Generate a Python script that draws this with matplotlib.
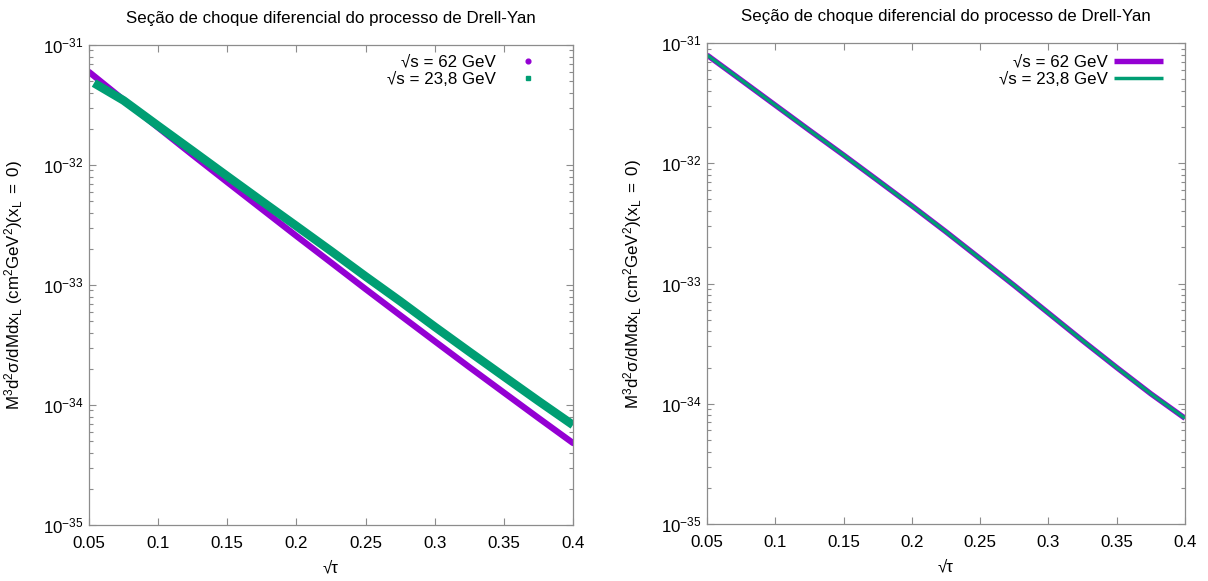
import matplotlib
matplotlib.use("Agg")
import matplotlib.pyplot as plt
from matplotlib.lines import Line2D
from matplotlib.ticker import LogLocator, NullFormatter, FixedLocator

plt.rcParams["font.family"] = ["Liberation Sans", "DejaVu Sans"]
plt.rcParams["mathtext.fontset"] = "custom"
plt.rcParams["mathtext.rm"] = "Liberation Sans"
plt.rcParams["mathtext.it"] = "Liberation Sans:italic"
plt.rcParams["mathtext.bf"] = "Liberation Sans:bold"

# gnuplot-ish palette
CPUR = "#9400D3"
CGRN = "#009E73"
CAX  = "#8C8C8C"
FS   = 12.2

TITLE  = "Seção de choque diferencial do processo de Drell-Yan"
YLABEL = r"$\mathregular{M^3d^2σ/dMdx_L\ (cm^2GeV^2)(x_L\ =\ 0)}$"
XLABEL = "√τ"
LABELS = ["√s = 62 GeV", "√s = 23,8 GeV"]

X_TICKS = [0.05, 0.1, 0.15, 0.2, 0.25, 0.3, 0.35, 0.4]
X_TICK_LABELS = ["0.05", "0.1", "0.15", "0.2", "0.25", "0.3", "0.35", "0.4"]
Y_TICKS = [1e-35, 1e-34, 1e-33, 1e-32, 1e-31]
Y_TICK_LABELS = [r"$\mathregular{10^{-35}}$", r"$\mathregular{10^{-34}}$",
                 r"$\mathregular{10^{-33}}$", r"$\mathregular{10^{-32}}$",
                 r"$\mathregular{10^{-31}}$"]

# left panel (points)
left_x_62 = [0.05, 0.075, 0.1, 0.125, 0.15, 0.175, 0.2, 0.225, 0.25,
             0.275, 0.3, 0.325, 0.35, 0.375, 0.4]
left_y_62 = [5.96e-32, 3.49e-32, 2.05e-32, 1.21e-32, 7.19e-33, 4.29e-33,
             2.56e-33, 1.54e-33, 9.25e-34, 5.60e-34, 3.40e-34, 2.07e-34,
             1.27e-34, 7.80e-35, 4.82e-35]
left_x_238 = [0.0536, 0.075, 0.1, 0.125, 0.15, 0.175, 0.2, 0.225, 0.25,
              0.275, 0.3, 0.325, 0.35, 0.375, 0.4]
left_y_238 = [4.82e-32, 3.45e-32, 2.12e-32, 1.31e-32, 8.07e-33, 4.99e-33,
              3.10e-33, 1.92e-33, 1.18e-33, 7.33e-34, 4.49e-34, 2.78e-34,
              1.73e-34, 1.08e-34, 6.81e-35]

# right panel (lines)
right_x = [0.05, 0.075, 0.1, 0.125, 0.15, 0.175, 0.2, 0.225, 0.25,
           0.275, 0.3, 0.325, 0.35, 0.375, 0.4]
right_y_62 = [7.94e-32, 4.92e-32, 3.04e-32, 1.88e-32, 1.17e-32, 7.21e-33,
              4.43e-33, 2.69e-33, 1.61e-33, 9.62e-34, 5.68e-34, 3.35e-34,
              2.00e-34, 1.21e-34, 7.57e-35]
right_y_238 = [7.94e-32, 4.92e-32, 3.04e-32, 1.88e-32, 1.17e-32, 7.21e-33,
               4.43e-33, 2.69e-33, 1.61e-33, 9.62e-34, 5.68e-34, 3.35e-34,
               2.00e-34, 1.21e-34, 7.57e-35]


def style_axes(ax):
    ax.set_yscale("log")
    ax.set_xlim(0.05, 0.4)
    ax.set_ylim(1e-35, 1e-31)
    ax.xaxis.set_major_locator(FixedLocator(X_TICKS))
    ax.set_xticklabels(X_TICK_LABELS)
    ax.yaxis.set_major_locator(FixedLocator(Y_TICKS))
    ax.set_yticklabels(Y_TICK_LABELS)
    ax.yaxis.set_minor_locator(LogLocator(base=10, subs=range(2, 10), numticks=20))
    ax.yaxis.set_minor_formatter(NullFormatter())
    for sp in ax.spines.values():
        sp.set_color(CAX)
        sp.set_linewidth(0.9)
    ax.tick_params(which="both", direction="in", top=True, right=True,
                   color=CAX, width=0.8, labelsize=FS, labelcolor="black")
    ax.tick_params(which="major", length=5)
    ax.tick_params(which="minor", length=2.6)
    ax.tick_params(axis="x", pad=8)
    ax.tick_params(axis="y", pad=4)
    ax.set_title(TITLE, fontsize=FS, pad=16)
    ax.set_xlabel(XLABEL, fontsize=FS, labelpad=7)
    ax.set_ylabel(YLABEL, fontsize=FS)
    ax.yaxis.set_label_coords(-0.132, 0.5)


fig = plt.figure(figsize=(12.08, 5.81), dpi=100)
fig.patch.set_facecolor("white")
ax1 = fig.add_axes([89 / 1208, 1 - 525 / 581, 484 / 1208, 480 / 581])
ax2 = fig.add_axes([707 / 1208, 1 - 524 / 581, 478 / 1208, 481 / 581])

# left: dense points look like thick bands
ax1.plot(left_x_62, left_y_62, color=CPUR, lw=4.5, solid_capstyle="round",
         solid_joinstyle="round")
ax1.plot(left_x_238, left_y_238, color=CGRN, lw=6.2, solid_capstyle="butt",
         solid_joinstyle="round")
style_axes(ax1)
handles = [
    Line2D([], [], ls="none", marker="o", ms=3.4, color=CPUR, label=LABELS[0]),
    Line2D([], [], ls="none", marker="s", ms=3.4, color=CGRN, label=LABELS[1]),
]
ax1.legend(handles=handles, loc="upper right", bbox_to_anchor=(0.938, 0.98),
           frameon=False, markerfirst=False, alignment="right", fontsize=FS,
           handlelength=1.8, handletextpad=1.0, labelspacing=0.15,
           borderpad=0, borderaxespad=0)

# right: lines
ax2.plot(right_x, right_y_62, color=CPUR, lw=3.9, label=LABELS[0],
         solid_capstyle="butt", solid_joinstyle="round")
ax2.plot(right_x, right_y_238, color=CGRN, lw=2.5, label=LABELS[1],
         solid_capstyle="butt", solid_joinstyle="round")
style_axes(ax2)
ax2.legend(loc="upper right", bbox_to_anchor=(1 - 22 / 478, 0.976),
           frameon=False, markerfirst=False, alignment="right", fontsize=FS,
           handlelength=2.9, handletextpad=0.35, labelspacing=0.15,
           borderpad=0, borderaxespad=0)

fig.savefig("out.png", dpi=100, facecolor="white")
plt.close(fig)
